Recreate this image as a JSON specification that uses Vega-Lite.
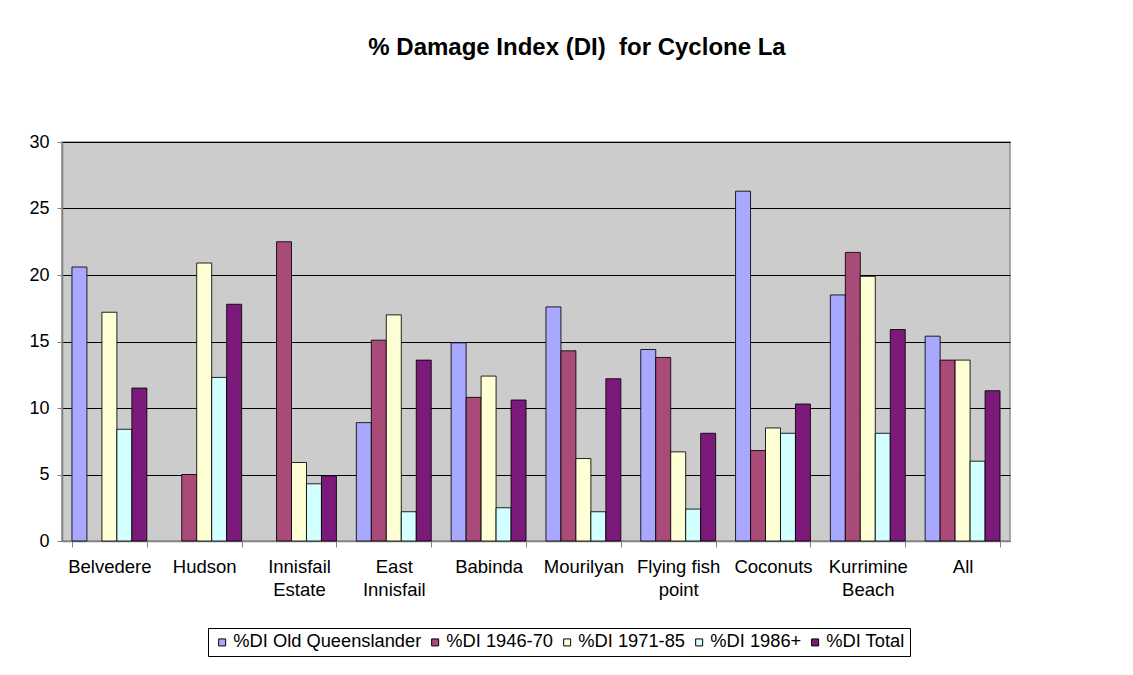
{
  "$schema": "https://vega.github.io/schema/vega-lite/v6.json",
  "width": 948,
  "height": 399,
  "autosize": {"type": "none"},
  "padding": {"left": 62, "top": 142, "right": 123, "bottom": 134},
  "background": "white",
  "title": {
    "text": "% Damage Index (DI)\u00a0 for Cyclone La",
    "font": "Liberation Sans",
    "fontSize": 24,
    "fontWeight": "bold",
    "color": "black",
    "anchor": "middle",
    "frame": "group",
    "offset": 73,
    "dx": 41
  },
  "data": {
    "values": [
      {"site": "Belvedere", "series": "%DI Old Queenslander", "value": 20.6},
      {"site": "Belvedere", "series": "%DI 1946-70", "value": null},
      {"site": "Belvedere", "series": "%DI 1971-85", "value": 17.2},
      {"site": "Belvedere", "series": "%DI 1986+", "value": 8.4},
      {"site": "Belvedere", "series": "%DI Total", "value": 11.5},
      {"site": "Hudson", "series": "%DI Old Queenslander", "value": null},
      {"site": "Hudson", "series": "%DI 1946-70", "value": 5.0},
      {"site": "Hudson", "series": "%DI 1971-85", "value": 20.9},
      {"site": "Hudson", "series": "%DI 1986+", "value": 12.3},
      {"site": "Hudson", "series": "%DI Total", "value": 17.8},
      {"site": "Innisfail\nEstate", "series": "%DI Old Queenslander", "value": null},
      {"site": "Innisfail\nEstate", "series": "%DI 1946-70", "value": 22.5},
      {"site": "Innisfail\nEstate", "series": "%DI 1971-85", "value": 5.9},
      {"site": "Innisfail\nEstate", "series": "%DI 1986+", "value": 4.3},
      {"site": "Innisfail\nEstate", "series": "%DI Total", "value": 4.9},
      {"site": "East\nInnisfail", "series": "%DI Old Queenslander", "value": 8.9},
      {"site": "East\nInnisfail", "series": "%DI 1946-70", "value": 15.1},
      {"site": "East\nInnisfail", "series": "%DI 1971-85", "value": 17.0},
      {"site": "East\nInnisfail", "series": "%DI 1986+", "value": 2.2},
      {"site": "East\nInnisfail", "series": "%DI Total", "value": 13.6},
      {"site": "Babinda", "series": "%DI Old Queenslander", "value": 14.9},
      {"site": "Babinda", "series": "%DI 1946-70", "value": 10.8},
      {"site": "Babinda", "series": "%DI 1971-85", "value": 12.4},
      {"site": "Babinda", "series": "%DI 1986+", "value": 2.5},
      {"site": "Babinda", "series": "%DI Total", "value": 10.6},
      {"site": "Mourilyan", "series": "%DI Old Queenslander", "value": 17.6},
      {"site": "Mourilyan", "series": "%DI 1946-70", "value": 14.3},
      {"site": "Mourilyan", "series": "%DI 1971-85", "value": 6.2},
      {"site": "Mourilyan", "series": "%DI 1986+", "value": 2.2},
      {"site": "Mourilyan", "series": "%DI Total", "value": 12.2},
      {"site": "Flying fish\npoint", "series": "%DI Old Queenslander", "value": 14.4},
      {"site": "Flying fish\npoint", "series": "%DI 1946-70", "value": 13.8},
      {"site": "Flying fish\npoint", "series": "%DI 1971-85", "value": 6.7},
      {"site": "Flying fish\npoint", "series": "%DI 1986+", "value": 2.4},
      {"site": "Flying fish\npoint", "series": "%DI Total", "value": 8.1},
      {"site": "Coconuts", "series": "%DI Old Queenslander", "value": 26.3},
      {"site": "Coconuts", "series": "%DI 1946-70", "value": 6.8},
      {"site": "Coconuts", "series": "%DI 1971-85", "value": 8.5},
      {"site": "Coconuts", "series": "%DI 1986+", "value": 8.1},
      {"site": "Coconuts", "series": "%DI Total", "value": 10.3},
      {"site": "Kurrimine\nBeach", "series": "%DI Old Queenslander", "value": 18.5},
      {"site": "Kurrimine\nBeach", "series": "%DI 1946-70", "value": 21.7},
      {"site": "Kurrimine\nBeach", "series": "%DI 1971-85", "value": 19.9},
      {"site": "Kurrimine\nBeach", "series": "%DI 1986+", "value": 8.1},
      {"site": "Kurrimine\nBeach", "series": "%DI Total", "value": 15.9},
      {"site": "All", "series": "%DI Old Queenslander", "value": 15.4},
      {"site": "All", "series": "%DI 1946-70", "value": 13.6},
      {"site": "All", "series": "%DI 1971-85", "value": 13.6},
      {"site": "All", "series": "%DI 1986+", "value": 6.0},
      {"site": "All", "series": "%DI Total", "value": 11.3}
    ]
  },
  "mark": {"type": "bar", "stroke": "black", "strokeWidth": 1, "strokeOpacity": 0.85},
  "encoding": {
    "x": {
      "field": "site",
      "type": "nominal",
      "sort": null,
      "scale": {"paddingInner": 0.21, "paddingOuter": 0.105},
      "axis": {
        "title": null,
        "labelAngle": 0,
        "labelExpr": "split(datum.label, '\\n')",
        "labelFont": "Liberation Sans",
        "labelFontSize": 18.5,
        "labelColor": "black",
        "labelPadding": 10,
        "labelLineHeight": 23,
        "tickBand": "extent",
        "tickColor": "#808080",
        "tickSize": 6,
        "domainColor": "#808080",
        "grid": false
      }
    },
    "xOffset": {
      "field": "series",
      "type": "nominal",
      "sort": ["%DI Old Queenslander", "%DI 1946-70", "%DI 1971-85", "%DI 1986+", "%DI Total"],
      "scale": {"paddingInner": 0, "paddingOuter": 0}
    },
    "y": {
      "field": "value",
      "type": "quantitative",
      "scale": {"domain": [0, 30]},
      "axis": {
        "title": null,
        "values": [0, 5, 10, 15, 20, 25, 30],
        "labelFont": "Liberation Sans",
        "labelFontSize": 18,
        "labelColor": "black",
        "labelPadding": 8,
        "tickColor": "#808080",
        "tickSize": 5,
        "domainColor": "#808080",
        "grid": true,
        "gridColor": "black",
        "gridOpacity": 1,
        "gridWidth": 1
      }
    },
    "color": {
      "field": "series",
      "type": "nominal",
      "sort": ["%DI Old Queenslander", "%DI 1946-70", "%DI 1971-85", "%DI 1986+", "%DI Total"],
      "scale": {
        "domain": ["%DI Old Queenslander", "%DI 1946-70", "%DI 1971-85", "%DI 1986+", "%DI Total"],
        "range": ["#A8A8FF", "#AA4A78", "#FFFFD6", "#D2FFFF", "#7B1A7B"]
      },
      "legend": {
        "title": null,
        "orient": "none",
        "direction": "horizontal",
        "legendX": 146,
        "legendY": 486,
        "symbolType": "square",
        "symbolSize": 49,
        "symbolStrokeColor": "black",
        "symbolStrokeWidth": 1,
        "labelFont": "Liberation Sans",
        "labelFontSize": 18.3,
        "labelColor": "black",
        "labelLimit": 300,
        "labelOffset": 2,
        "columnPadding": 4,
        "padding": 5,
        "strokeColor": "black",
        "fillColor": "white"
      }
    }
  },
  "config": {
    "view": {"fill": "#CCCCCC", "stroke": "#909090", "strokeWidth": 1.5},
    "axis": {"domainWidth": 1.5}
  }
}
